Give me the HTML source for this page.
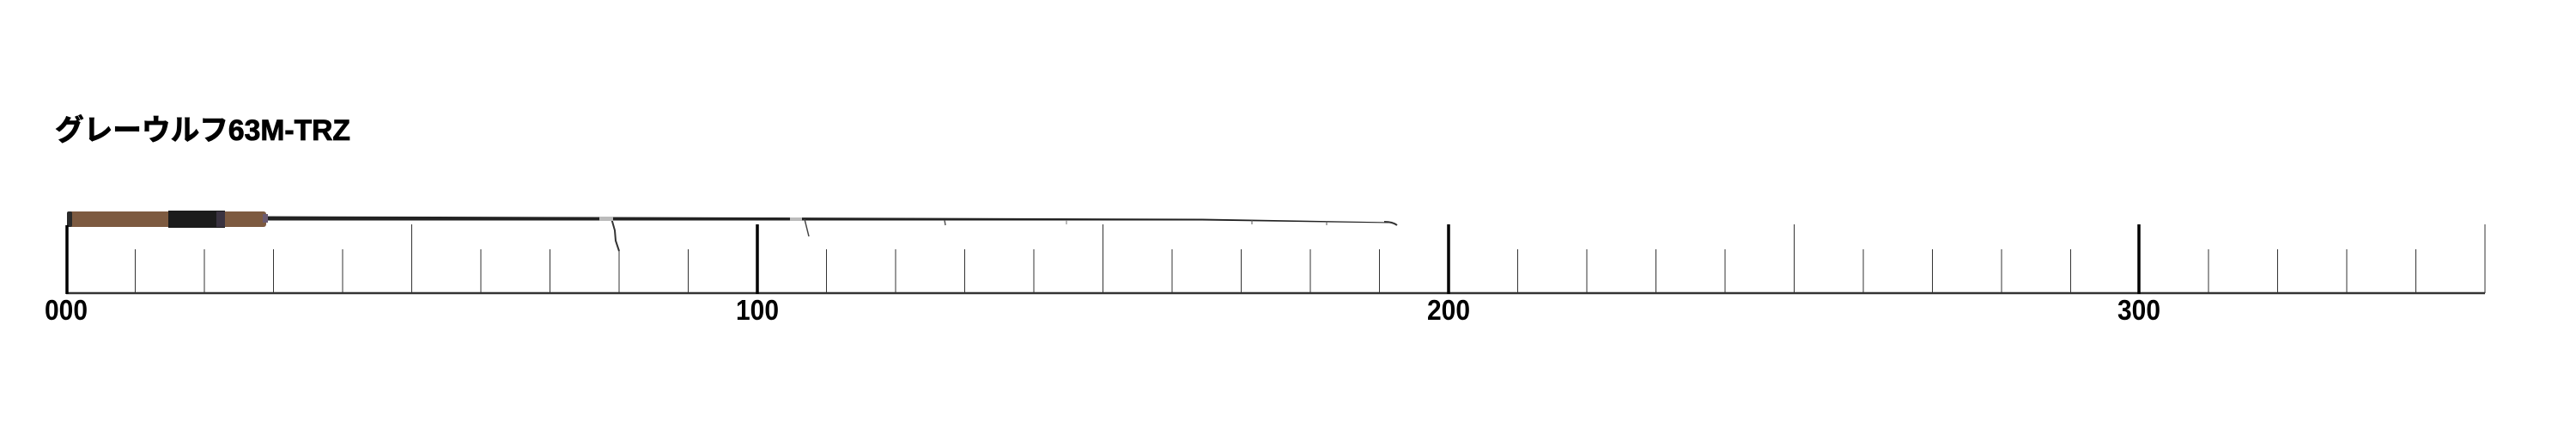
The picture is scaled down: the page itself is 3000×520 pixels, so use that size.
<!DOCTYPE html>
<html><head><meta charset="utf-8"><style>
html,body{margin:0;padding:0;background:#fff;width:3000px;height:520px;overflow:hidden}
</style></head><body>
<svg width="3000" height="520" xmlns="http://www.w3.org/2000/svg">
<text x="64" y="163" font-family="'Liberation Sans','Noto Sans CJK JP',sans-serif" font-weight="bold" font-size="34" stroke="#000" stroke-width="0.8" textLength="344" lengthAdjust="spacingAndGlyphs">グレーウルフ63M-TRZ</text>
<!-- rod blank -->
<polygon points="300,251.5 900,253 1400,254.5 1620,258.5 1620,259.5 1400,256.5 900,256.5 300,256.5" fill="#222"/>
<path d="M1612,258 q10,0 15,4" stroke="#333" stroke-width="2" fill="none"/>
<!-- guides -->
<path d="M712,254 l4,14 l1,12 l4,12" stroke="#333" stroke-width="2" fill="none"/>
<rect x="698" y="252" width="16" height="5" fill="#bbb"/>
<path d="M937,255 l3,12 l2,8" stroke="#444" stroke-width="1.5" fill="none"/>
<rect x="920" y="253" width="14" height="4" fill="#bbb"/>
<line x1="1100" y1="256" x2="1101" y2="262" stroke="#555" stroke-width="1.5"/>
<line x1="1242" y1="256" x2="1242" y2="261" stroke="#777" stroke-width="1"/>
<line x1="1458" y1="256" x2="1458" y2="261" stroke="#555" stroke-width="1"/>
<line x1="1545" y1="257" x2="1545" y2="262" stroke="#555" stroke-width="1"/>
<!-- handle -->
<rect x="78" y="246" width="232" height="18" rx="3" fill="#7d5a40"/>
<rect x="78" y="246" width="6" height="18" rx="2" fill="#2a2a2a"/>
<rect x="196" y="245" width="66" height="20" fill="#1c1c1c"/>
<rect x="252" y="246" width="10" height="18" fill="#3a3340"/>
<rect x="306" y="249" width="6" height="10" fill="#6a5a70"/>
<line x1="77" y1="341" x2="2894" y2="341" stroke="#333" stroke-width="2.5"/>
<g font-family="'Liberation Sans',sans-serif" font-weight="bold" font-size="33" fill="#000">
<text x="77" y="372" text-anchor="middle" textLength="50" lengthAdjust="spacingAndGlyphs">000</text>
<text x="882" y="372" text-anchor="middle" textLength="50" lengthAdjust="spacingAndGlyphs">100</text>
<text x="1687" y="372" text-anchor="middle" textLength="50" lengthAdjust="spacingAndGlyphs">200</text>
<text x="2491" y="372" text-anchor="middle" textLength="50" lengthAdjust="spacingAndGlyphs">300</text>
</g>
<g stroke="#333" stroke-width="1">
<line x1="157.5" y1="290" x2="157.5" y2="341"/><line x1="238" y1="290" x2="238" y2="341"/><line x1="318.5" y1="290" x2="318.5" y2="341"/><line x1="399" y1="290" x2="399" y2="341"/>
<line x1="479.5" y1="261" x2="479.5" y2="341"/>
<line x1="560" y1="290" x2="560" y2="341"/><line x1="640.5" y1="290" x2="640.5" y2="341"/><line x1="721" y1="290" x2="721" y2="341"/><line x1="801.5" y1="290" x2="801.5" y2="341"/>
<line x1="962.5" y1="290" x2="962.5" y2="341"/><line x1="1043" y1="290" x2="1043" y2="341"/><line x1="1123.5" y1="290" x2="1123.5" y2="341"/><line x1="1204" y1="290" x2="1204" y2="341"/>
<line x1="1284.5" y1="261" x2="1284.5" y2="341"/>
<line x1="1365" y1="290" x2="1365" y2="341"/><line x1="1445.5" y1="290" x2="1445.5" y2="341"/><line x1="1526" y1="290" x2="1526" y2="341"/><line x1="1606.5" y1="290" x2="1606.5" y2="341"/>
<line x1="1767.5" y1="290" x2="1767.5" y2="341"/><line x1="1848" y1="290" x2="1848" y2="341"/><line x1="1928.5" y1="290" x2="1928.5" y2="341"/><line x1="2009" y1="290" x2="2009" y2="341"/>
<line x1="2089.5" y1="261" x2="2089.5" y2="341"/>
<line x1="2170" y1="290" x2="2170" y2="341"/><line x1="2250.5" y1="290" x2="2250.5" y2="341"/><line x1="2331" y1="290" x2="2331" y2="341"/><line x1="2411.5" y1="290" x2="2411.5" y2="341"/>
<line x1="2572" y1="290" x2="2572" y2="341"/><line x1="2652.5" y1="290" x2="2652.5" y2="341"/><line x1="2733" y1="290" x2="2733" y2="341"/><line x1="2813.5" y1="290" x2="2813.5" y2="341"/>
<line x1="2894" y1="261" x2="2894" y2="341"/>
</g>
<g stroke="#000" stroke-width="3.5">
<line x1="78" y1="262" x2="78" y2="342"/>
<line x1="882" y1="261" x2="882" y2="342"/>
<line x1="1687" y1="261" x2="1687" y2="342"/>
<line x1="2491" y1="261" x2="2491" y2="342"/>
</g>
</svg>
</body></html>
